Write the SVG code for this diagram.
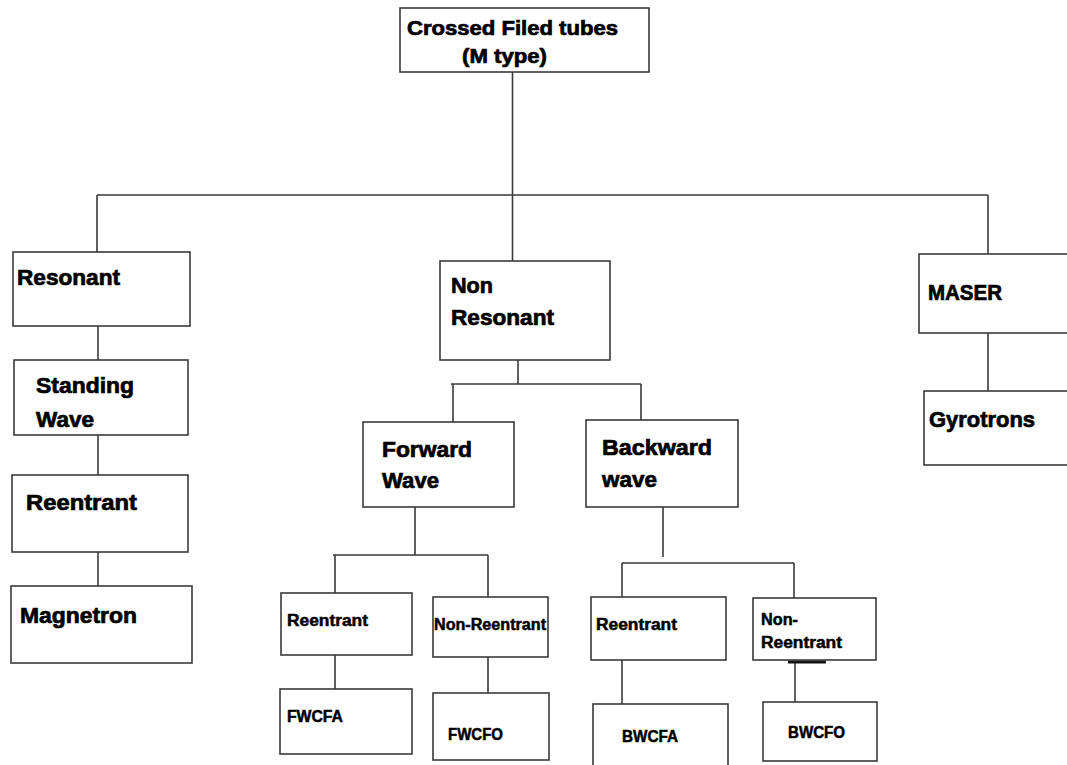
<svg xmlns="http://www.w3.org/2000/svg" width="1067" height="765" viewBox="0 0 1067 765">
<style>
.box{fill:#fff;stroke:#3a3a3a;stroke-width:1.6}
.ln{stroke:#3a3a3a;stroke-width:1.6;fill:none}
.t{font-family:"Liberation Sans",Arial,sans-serif;font-weight:bold;fill:#000;stroke:#000;stroke-width:0.7;font-size:22px}
.s{font-size:16px;stroke-width:0.5}
.m{font-size:20px}
</style>
<rect width="1067" height="765" fill="#fff"/>
<g id="connectors">
<path class="ln" d="M512.5,72V261 M97,195H988 M97,195V252 M988,195V254 M988,333V391 M98,326V360 M98,435V475 M98,552V588 M518,360V384 M451,384H641 M453,384V422 M641,384V420 M415,507V555 M333,555H488 M335,555V595 M488,555V599 M335,655V691 M488,657V693 M663,507V557 M622,563H794 M622,563V599 M794,563V600 M622,660V704 M795,662V702"/>
<path d="M788,662H826" stroke="#111" stroke-width="3"/>
</g>
<g id="n-root"><rect class="box" x="400" y="8" width="249" height="64"/>
<text class="t m" x="407" y="35" textLength="211" lengthAdjust="spacingAndGlyphs">Crossed Filed tubes</text>
<text class="t m" x="462" y="63" textLength="85" lengthAdjust="spacingAndGlyphs">(M type)</text></g>
<g id="n-resonant"><rect class="box" x="13" y="252" width="177" height="74"/>
<text class="t" x="17" y="285" textLength="103" lengthAdjust="spacingAndGlyphs">Resonant</text></g>
<g id="n-standing"><rect class="box" x="14" y="360" width="174" height="75"/>
<text class="t" x="36" y="393" textLength="98" lengthAdjust="spacingAndGlyphs">Standing</text>
<text class="t" x="36" y="427" textLength="58" lengthAdjust="spacingAndGlyphs">Wave</text></g>
<g id="n-reentrant-l"><rect class="box" x="12" y="475" width="176" height="77"/>
<text class="t" x="26" y="510" textLength="111" lengthAdjust="spacingAndGlyphs">Reentrant</text></g>
<g id="n-magnetron"><rect class="box" x="11" y="586" width="181" height="77"/>
<text class="t" x="20" y="623" textLength="117" lengthAdjust="spacingAndGlyphs">Magnetron</text></g>
<g id="n-nonresonant"><rect class="box" x="440" y="261" width="170" height="99"/>
<text class="t" x="451" y="293" textLength="42" lengthAdjust="spacingAndGlyphs">Non</text>
<text class="t" x="451" y="325" textLength="103" lengthAdjust="spacingAndGlyphs">Resonant</text></g>
<g id="n-forward"><rect class="box" x="363" y="422" width="151" height="85"/>
<text class="t" x="382" y="457" textLength="90" lengthAdjust="spacingAndGlyphs">Forward</text>
<text class="t" x="382" y="488" textLength="57" lengthAdjust="spacingAndGlyphs">Wave</text></g>
<g id="n-backward"><rect class="box" x="586" y="420" width="152" height="87"/>
<text class="t" x="602" y="455" textLength="110" lengthAdjust="spacingAndGlyphs">Backward</text>
<text class="t" x="602" y="487" textLength="55" lengthAdjust="spacingAndGlyphs">wave</text></g>
<g id="n-maser"><rect class="box" x="919" y="254" width="150" height="79"/>
<text class="t" x="928" y="300" textLength="74" lengthAdjust="spacingAndGlyphs">MASER</text></g>
<g id="n-gyrotrons"><rect class="box" x="924" y="391" width="145" height="74"/>
<text class="t" x="929" y="427" textLength="106" lengthAdjust="spacingAndGlyphs">Gyrotrons</text></g>
<g id="n-fw-reentrant"><rect class="box" x="281" y="593" width="131" height="62"/>
<text class="t s" x="287" y="626" textLength="81" lengthAdjust="spacingAndGlyphs">Reentrant</text></g>
<g id="n-fw-nonreentrant"><rect class="box" x="433" y="597" width="115" height="60"/>
<text class="t s" x="434" y="630" textLength="112" lengthAdjust="spacingAndGlyphs">Non-Reentrant</text></g>
<g id="n-fwcfa"><rect class="box" x="280" y="689" width="132" height="65"/>
<text class="t s" x="287" y="722" textLength="56" lengthAdjust="spacingAndGlyphs">FWCFA</text></g>
<g id="n-fwcfo"><rect class="box" x="433" y="693" width="116" height="67"/>
<text class="t s" x="448" y="740" textLength="55" lengthAdjust="spacingAndGlyphs">FWCFO</text></g>
<g id="n-bw-reentrant"><rect class="box" x="591" y="597" width="135" height="63"/>
<text class="t s" x="596" y="630" textLength="81" lengthAdjust="spacingAndGlyphs">Reentrant</text></g>
<g id="n-bw-nonreentrant"><rect class="box" x="753" y="598" width="123" height="62"/>
<text class="t s" x="761" y="625" textLength="37" lengthAdjust="spacingAndGlyphs">Non-</text>
<text class="t s" x="761" y="648" textLength="81" lengthAdjust="spacingAndGlyphs">Reentrant</text></g>
<g id="n-bwcfa"><rect class="box" x="593" y="704" width="135" height="70"/>
<text class="t s" x="622" y="742" textLength="56" lengthAdjust="spacingAndGlyphs">BWCFA</text></g>
<g id="n-bwcfo"><rect class="box" x="763" y="702" width="114" height="59"/>
<text class="t s" x="788" y="738" textLength="57" lengthAdjust="spacingAndGlyphs">BWCFO</text></g>
</svg>
